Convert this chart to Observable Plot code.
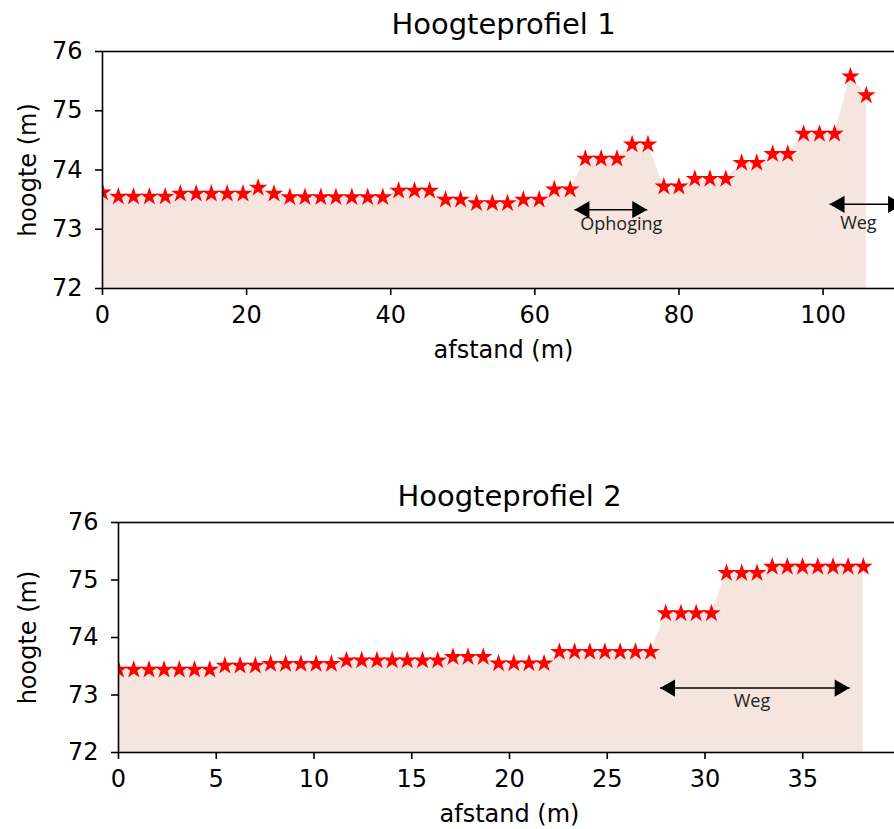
<!DOCTYPE html>
<html>
<head>
<meta charset="utf-8">
<script src="https://cdn.jsdelivr.net/npm/d3@7"></script>
<script src="https://cdn.jsdelivr.net/npm/@observablehq/plot@0.6"></script>
<style>
  html, body { margin: 0; padding: 0; background: #fff; overflow: hidden; }
  #wrap { position: relative; width: 894px; height: 829px; overflow: hidden; }
  #p1, #p2 { position: absolute; left: 0; }
  #p1 { top: 0; }
  #p2 { top: 440px; }
  #wrap svg { max-width: none !important; height: auto; }
  svg [aria-label$="tick"] { stroke-width: 1.6px; }
</style>
</head>
<body>
<div id="wrap"><div id="p1"></div><div id="p2"></div></div>
<script>
// ---- Hoogteprofiel 1 ----
const afstand1 = [0, 2.2, 4.3, 6.5, 8.7, 10.8, 13.0, 15.1, 17.3, 19.5, 21.6, 23.8, 26.0, 28.1, 30.3, 32.4, 34.6, 36.8, 38.9, 41.1,
  43.3, 45.4, 47.6, 49.7, 51.9, 54.1, 56.2, 58.4, 60.6, 62.7, 64.9, 67.0, 69.2, 71.4, 73.5, 75.7, 77.9, 80.0, 82.2, 84.3,
  86.5, 88.7, 90.8, 93.0, 95.1, 97.3, 99.5, 101.6, 103.8, 106.0];
const hoogte1 = [73.62, 73.55, 73.55, 73.55, 73.55, 73.60, 73.60, 73.60, 73.60, 73.60, 73.70, 73.60,
  73.54, 73.54, 73.54, 73.54, 73.54, 73.54, 73.54, 73.65, 73.65, 73.65, 73.50, 73.50, 73.44, 73.44, 73.44,
  73.50, 73.50, 73.67, 73.67, 74.19, 74.19, 74.19, 74.43, 74.43, 73.72, 73.72, 73.85, 73.85, 73.85,
  74.12, 74.12, 74.27, 74.27, 74.61, 74.61, 74.61, 75.58, 75.26];
const xTicks1 = [0, 20, 40, 60, 80, 100];

// ---- Hoogteprofiel 2 ----
const afstand2 = [0, 0.78, 1.56, 2.33, 3.11, 3.89, 4.67, 5.44, 6.22, 7.00, 7.78, 8.55, 9.33, 10.11, 10.89, 11.66, 12.44,
  13.22, 14.00, 14.77, 15.55, 16.33, 17.11, 17.88, 18.66, 19.44, 20.22, 21.00, 21.77, 22.55, 23.33, 24.11, 24.88, 25.66,
  26.44, 27.22, 27.99, 28.77, 29.55, 30.33, 31.10, 31.88, 32.66, 33.44, 34.21, 34.99, 35.77, 36.55, 37.32, 38.10];
const hoogte2 = [73.44, 73.44, 73.44, 73.44, 73.44, 73.44, 73.44, 73.51, 73.51, 73.51,
  73.54, 73.54, 73.54, 73.54, 73.54, 73.60, 73.60, 73.60, 73.60, 73.60, 73.60, 73.60,
  73.66, 73.66, 73.66, 73.55, 73.55, 73.55, 73.55, 73.75, 73.75, 73.75, 73.75, 73.75, 73.75, 73.75,
  74.42, 74.42, 74.42, 74.42, 75.12, 75.12, 75.12, 75.23, 75.23, 75.23, 75.23, 75.23, 75.23, 75.23];
const xTicks2 = [0, 5, 10, 15, 20, 25, 30, 35];

const yTicks = [72, 73, 74, 75, 76];

// annotations (double-headed arrows)
const pijlen1 = [
  {x1: 65.5, x2: 75.6, y: 73.33, label: "Ophoging", tx: 72.0, ty: 73.08},
  {x1: 100.9, x2: 111.1, y: 73.42, label: "Weg", tx: 104.9, ty: 73.10}
];
const pijlen2 = [
  {x1: 27.7, x2: 37.4, y: 73.12, label: "Weg", tx: 32.4, ty: 72.90}
];

const fillColor = "#f6e4de";
const font = "DejaVu Sans";

function profiel({afstand, hoogte, xTicks, xDomain, pijlen, title, width, height, mt, mb, ml, mr, titleDy}) {
  const data = afstand.map((x, i) => ({x, y: hoogte[i]}));
  const heads = pijlen.flatMap(p => [
    {x: p.x1, y: p.y, rot: -90},
    {x: p.x2, y: p.y, rot: 90}
  ]);
  return Plot.plot({
    width, height,
    marginTop: mt, marginBottom: mb, marginLeft: ml, marginRight: mr,
    style: {fontFamily: font, fontSize: "24px", color: "black", background: "transparent", overflow: "visible"},
    x: {domain: xDomain, ticks: xTicks, tickSize: 7, tickPadding: 10, label: null, tickFormat: d => String(d)},
    y: {domain: [72, 76], ticks: yTicks, tickSize: 7, tickPadding: 13, label: null, tickFormat: d => String(d)},
    marks: [
      Plot.areaY(data, {x: "x", y1: 72, y2: "y", fill: fillColor, curve: "linear"}),
      Plot.dot(data, {x: "x", y: "y", symbol: "star", r: 5.8, fill: "red", stroke: "none", clip: true}),
      Plot.link(pijlen, {x1: "x1", x2: "x2", y1: "y", y2: "y", stroke: "black", strokeWidth: 1.5}),
      Plot.dot(heads.filter(h => h.rot < 0), {x: "x", y: "y", symbol: "triangle", rotate: -90, dx: 10, r: 6.4, fill: "black", stroke: "none"}),
      Plot.dot(heads.filter(h => h.rot > 0), {x: "x", y: "y", symbol: "triangle", rotate: 90, dx: -10, r: 6.4, fill: "black", stroke: "none"}),
      Plot.text(pijlen, {x: "tx", y: "ty", text: "label", fontFamily: "Open Sans", fontSize: 18, fill: "#222"}),
      Plot.frame({stroke: "black", strokeWidth: 1.6}),
      Plot.text([title], {text: d => d, frameAnchor: "top", lineAnchor: "middle", textAnchor: "middle", dy: titleDy, fontSize: 29}),
      Plot.text(["afstand (m)"], {text: d => d, frameAnchor: "bottom", lineAnchor: "middle", textAnchor: "middle", dy: 62}),
      Plot.text(["hoogte (m)"], {text: d => d, frameAnchor: "left", lineAnchor: "middle", textAnchor: "middle", dx: -ml + 28, rotate: -90})
    ]
  });
}

const c1 = profiel({
  afstand: afstand1, hoogte: hoogte1, xTicks: xTicks1, xDomain: [0, 111.3], pijlen: pijlen1,
  title: "Hoogteprofiel 1", width: 910, height: 380, mt: 51, mb: 92, ml: 102, mr: 6, titleDy: -27
});
const c2 = profiel({
  afstand: afstand2, hoogte: hoogte2, xTicks: xTicks2, xDomain: [0, 40], pijlen: pijlen2,
  title: "Hoogteprofiel 2", width: 910, height: 389, mt: 82, mb: 77, ml: 118, mr: 10, titleDy: -26
});
document.getElementById("p1").appendChild(c1);
document.getElementById("p2").appendChild(c2);
</script>
</body>
</html>
